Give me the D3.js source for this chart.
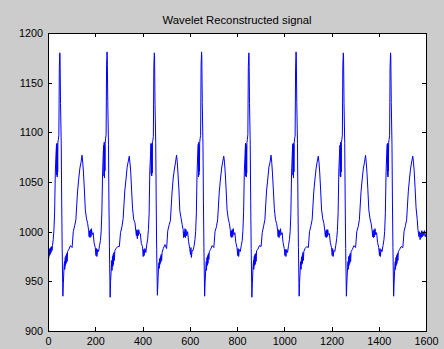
<!DOCTYPE html>
<html>
<head>
<meta charset="utf-8">
<script src="https://cdn.jsdelivr.net/npm/d3@7"></script>
<style>
  body { margin: 0; background: #cccccc; }
  svg { display: block; }
  .axis text { font-family: "Liberation Sans", Arial, sans-serif; font-size: 10.8px; fill: #000; }
  .axis path, .axis line { stroke: #000; shape-rendering: crispEdges; }
  .title { font-family: "Liberation Sans", Arial, sans-serif; font-size: 11.3px; fill: #000; }
</style>
</head>
<body>
<script>
var WIDTH = 444, HEIGHT = 349;
var LEFT = 48, RIGHT = 426, TOP = 33, BOTTOM = 331;

var titleText = "Wavelet Reconstructed signal";
var xTicks = [0, 200, 400, 600, 800, 1000, 1200, 1400, 1600];
var yTicks = [900, 950, 1000, 1050, 1100, 1150, 1200];

// one array per heartbeat, [sample, amplitude]
var beat1 = [[0,975],[2,981],[3,973],[5,982],[6,976],[8,983],[9,977],[11,984],[13,979],[15,985],[17,981],[19,986],
  [22,992],[25,1001],[28,1019],[31,1060],[34,1079],[36,1088],[37,1057],[38,1089],[39,1055],[40,1086],[41,1060],[42,1090],[44,1093],[46,1097],[48,1165],[50,1180],[51,1176],[53,1129],[56,1089],[58,1030],[60,983],[63,935],[65,948],[68,965],[70,970],[71,962],[73,974],[74,966],[76,976],[77,968],[79,978],[81,970],[83,980],[88,982],[95,986],[102,984],[107,1000],[113,1006],[118,1012],[125,1040],[130,1053],[135,1064],[140,1070],[144,1077],[147,1070],[150,1060],[154,1042],[158,1022],[163,1013],[168,1008],[172,1001],[174,995],[176,1001],[178,994],[180,1002],[182,995],[184,1003],[187,997],[191,999],[195,989],[200,984],[203,976],[205,983],[207,975],[210,982],[214,980],[218,986]];
var beat2 = [[222,991],[225,1000],[228,1020],[231,1058],[234,1080],[236,1087],[237,1056],[238,1090],[239,1054],[240,1085],[241,1061],[242,1089],[244,1094],[246,1098],[248,1168],[250,1181],[251,1175],[253,1131],[256,1088],[258,1028],[260,985],[263,934],[265,950],[268,964],[270,971],[271,961],[273,975],[274,965],[276,977],[277,967],[279,979],[281,971],[283,981],[288,983],[295,985],[302,985],[307,999],[313,1005],[318,1013],[325,1041],[330,1052],[335,1065],[340,1071],[344,1076],[347,1069],[350,1061],[354,1041],[358,1023],[363,1012],[368,1009],[372,1000],[374,996],[376,1002],[378,993],[380,1001],[382,996],[384,1002],[387,998],[391,998],[395,988],[400,985],[403,975],[405,982],[407,976],[410,983],[414,979],[418,987]];
var beat3 = [[422,993],[425,1002],[428,1018],[431,1061],[434,1078],[436,1089],[437,1058],[438,1088],[439,1056],[440,1087],[441,1059],[442,1091],[444,1092],[446,1096],[448,1166],[450,1180],[451,1177],[453,1128],[456,1090],[458,1031],[460,982],[463,936],[465,947],[468,966],[470,969],[471,963],[473,973],[474,967],[476,975],[477,969],[479,977],[481,971],[483,979],[488,983],[495,987],[502,983],[507,1001],[513,1007],[518,1011],[525,1039],[530,1054],[535,1063],[540,1070],[544,1077],[547,1071],[550,1059],[554,1043],[558,1021],[563,1014],[568,1007],[572,1002],[574,994],[576,1000],[578,995],[580,1003],[582,994],[584,1002],[587,996],[591,1000],[595,990],[600,983],[603,977],[605,984],[607,974],[610,981],[614,981],[618,985]];
var beat4 = [[622,992],[625,1000],[628,1019],[631,1059],[634,1080],[636,1088],[637,1055],[638,1090],[639,1057],[640,1085],[641,1061],[642,1089],[644,1094],[646,1097],[648,1167],[650,1181],[651,1176],[653,1130],[656,1087],[658,1029],[660,984],[663,935],[665,949],[668,964],[670,970],[671,961],[673,974],[674,966],[676,976],[677,968],[679,978],[681,972],[683,980],[688,982],[695,986],[702,984],[707,1000],[713,1005],[718,1012],[725,1040],[730,1053],[735,1064],[740,1071],[744,1076],[747,1070],[750,1060],[754,1042],[758,1022],[763,1013],[768,1008],[772,1001],[774,995],[776,1001],[778,994],[780,1002],[782,995],[784,1003],[787,997],[791,999],[795,989],[800,984],[803,976],[805,983],[807,975],[810,982],[814,980],[818,986]];
var beat5 = [[822,991],[825,1001],[828,1020],[831,1060],[834,1078],[836,1089],[837,1056],[838,1088],[839,1055],[840,1086],[841,1059],[842,1090],[844,1093],[846,1098],[848,1166],[850,1180],[851,1177],[853,1129],[856,1088],[858,1031],[860,983],[863,934],[865,948],[868,965],[870,971],[871,962],[873,975],[874,966],[876,977],[877,967],[879,978],[881,970],[883,981],[888,982],[895,986],[902,985],[907,999],[913,1006],[918,1012],[925,1041],[930,1052],[935,1065],[940,1070],[944,1077],[947,1070],[950,1059],[954,1042],[958,1023],[963,1012],[968,1008],[972,1001],[974,995],[976,1002],[978,994],[980,1001],[982,996],[984,1003],[987,997],[991,999],[995,989],[1000,983],[1003,976],[1005,982],[1007,975],[1010,982],[1014,979],[1018,986]];
var beat6 = [[1022,992],[1025,1000],[1028,1018],[1031,1059],[1034,1079],[1036,1088],[1037,1057],[1038,1089],[1039,1054],[1040,1087],[1041,1060],[1042,1089],[1044,1094],[1046,1096],[1048,1165],[1050,1181],[1051,1176],[1053,1130],[1056,1089],[1058,1030],[1060,984],[1063,935],[1065,949],[1068,965],[1070,970],[1071,962],[1073,974],[1074,967],[1076,976],[1077,968],[1079,979],[1081,971],[1083,980],[1088,983],[1095,985],[1102,984],[1107,1000],[1113,1006],[1118,1012],[1125,1040],[1130,1053],[1135,1064],[1140,1071],[1144,1076],[1147,1070],[1150,1060],[1154,1042],[1158,1022],[1163,1013],[1168,1008],[1172,1000],[1174,995],[1176,1001],[1178,994],[1180,1002],[1182,995],[1184,1002],[1187,997],[1191,998],[1195,989],[1200,984],[1203,976],[1205,983],[1207,975],[1210,981],[1214,980],[1218,986]];
var beat7 = [[1222,993],[1225,1001],[1228,1019],[1231,1061],[1234,1079],[1236,1087],[1237,1056],[1238,1090],[1239,1055],[1240,1085],[1241,1060],[1242,1090],[1244,1093],[1246,1097],[1248,1167],[1250,1180],[1251,1176],[1253,1129],[1256,1089],[1258,1029],[1260,983],[1263,935],[1265,948],[1268,964],[1270,970],[1271,962],[1273,975],[1274,966],[1276,976],[1277,968],[1279,978],[1281,970],[1283,980],[1288,982],[1295,986],[1302,984],[1307,1000],[1313,1005],[1318,1012],[1325,1040],[1330,1053],[1335,1064],[1340,1070],[1344,1077],[1347,1070],[1350,1060],[1354,1042],[1358,1022],[1363,1013],[1368,1008],[1372,1001],[1374,995],[1376,1001],[1378,994],[1380,1002],[1382,995],[1384,1003],[1387,997],[1391,999],[1395,989],[1400,984],[1403,976],[1405,983],[1407,975],[1410,982],[1414,980],[1418,986]];
var beat8 = [[1422,992],[1425,1000],[1428,1019],[1431,1060],[1434,1080],[1436,1088],[1437,1057],[1438,1089],[1439,1055],[1440,1086],[1441,1061],[1442,1090],[1444,1093],[1446,1097],[1448,1166],[1450,1180],[1451,1176],[1453,1130],[1456,1088],[1458,1030],[1460,984],[1463,935],[1465,948],[1468,965],[1470,970],[1471,962],[1473,974],[1474,966],[1476,976],[1477,968],[1479,978],[1481,971],[1483,980],[1488,982],[1495,985],[1502,984],[1507,1000],[1513,1006],[1518,1012],[1525,1040],[1530,1053],[1535,1064],[1540,1071],[1544,1076],[1547,1070],[1550,1061],[1554,1043],[1558,1024],[1563,1012],[1566,1002],[1570,995],[1572,1000],[1575,992],[1578,999],[1580,994],[1582,1001],[1585,995],[1588,1000],[1591,996],[1594,1001],[1597,995],[1600,998]];

var signal = [].concat(beat1, beat2, beat3, beat4, beat5, beat6, beat7, beat8);

var translate = function (x, y) {
  return "translate(" + x + "," + y + ")";
};

var xScale = d3.scaleLinear()
  .domain([0, 1600])
  .range([LEFT, RIGHT]);

var yScale = d3.scaleLinear()
  .domain([900, 1200])
  .range([BOTTOM, TOP]);

var plain = d3.format("d");

var drawChart = function () {
  var svg = d3.select("body").append("svg")
    .attr("width", WIDTH)
    .attr("height", HEIGHT);

  svg.append("rect")
    .attr("width", WIDTH)
    .attr("height", HEIGHT)
    .attr("fill", "#cccccc");

  svg.append("rect")
    .attr("x", LEFT)
    .attr("y", TOP)
    .attr("width", RIGHT - LEFT)
    .attr("height", BOTTOM - TOP)
    .attr("fill", "#ffffff");

  svg.append("clipPath").attr("id", "plot")
    .append("rect")
    .attr("x", LEFT).attr("y", TOP)
    .attr("width", RIGHT - LEFT).attr("height", BOTTOM - TOP);

  var line = d3.line()
    .x(function (d) { return xScale(d[0]); })
    .y(function (d) { return yScale(d[1]); });

  svg.append("path")
    .attr("d", line(signal))
    .attr("clip-path", "url(#plot)")
    .attr("fill", "none")
    .attr("stroke", "#0000ff")
    .attr("stroke-width", 1);

  // MATLAB style box: ticks point inward on all four sides
  svg.append("g").attr("class", "axis")
    .attr("transform", translate(0, BOTTOM))
    .call(d3.axisBottom(xScale).tickValues(xTicks).tickFormat(plain).tickSizeInner(-4).tickSizeOuter(0).tickPadding(6));

  svg.append("g").attr("class", "axis")
    .attr("transform", translate(LEFT, 0))
    .call(d3.axisLeft(yScale).tickValues(yTicks).tickFormat(plain).tickSizeInner(-4).tickSizeOuter(0).tickPadding(5));

  svg.append("g").attr("class", "axis")
    .attr("transform", translate(0, TOP))
    .call(d3.axisTop(xScale).tickValues(xTicks).tickSizeInner(-4).tickSizeOuter(0).tickFormat(""));

  svg.append("g").attr("class", "axis")
    .attr("transform", translate(RIGHT, 0))
    .call(d3.axisRight(yScale).tickValues(yTicks).tickSizeInner(-4).tickSizeOuter(0).tickFormat(""));

  svg.append("text")
    .attr("class", "title")
    .attr("x", (LEFT + RIGHT) / 2)
    .attr("y", 24)
    .attr("text-anchor", "middle")
    .text(titleText);
};

window.onload = drawChart;
</script>
</body>
</html>
